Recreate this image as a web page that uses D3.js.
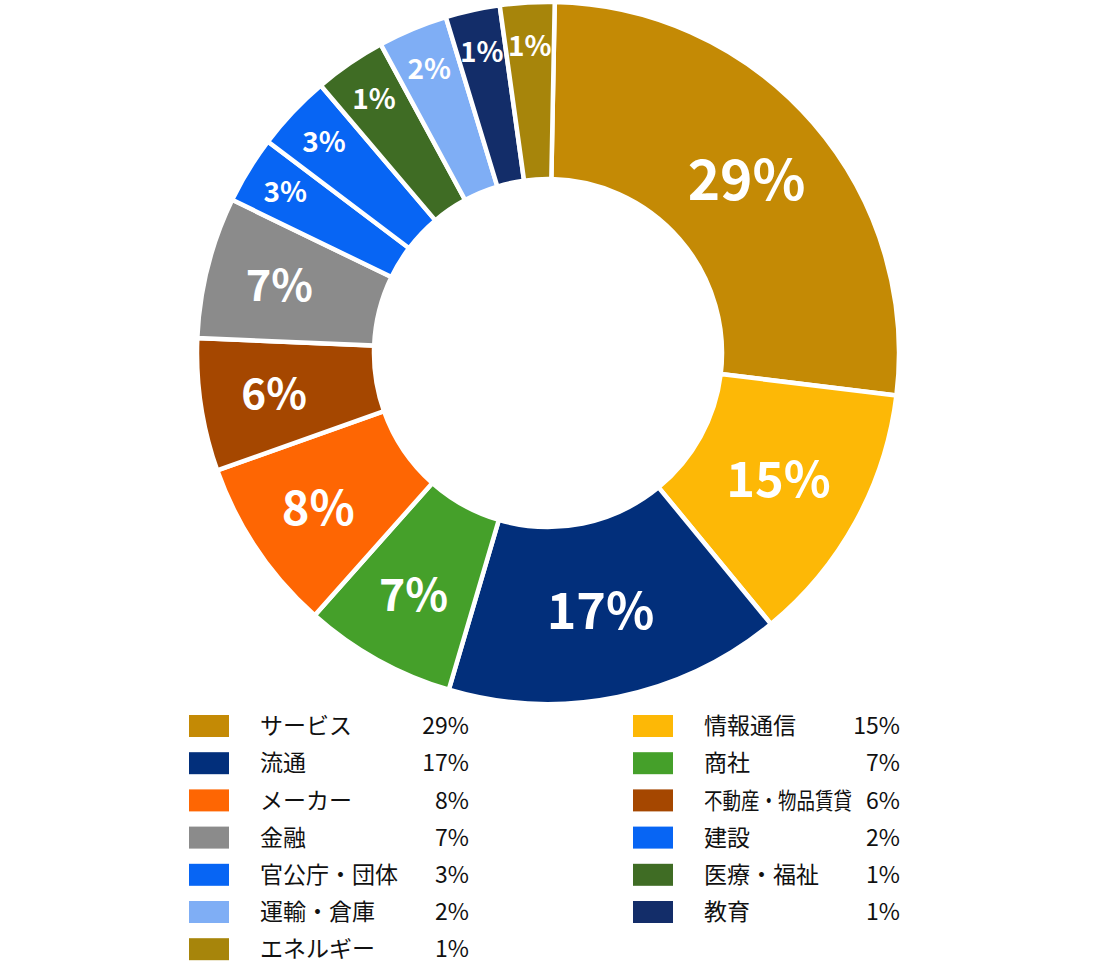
<!DOCTYPE html>
<html>
<head>
<meta charset="utf-8">
<script src="https://cdn.jsdelivr.net/npm/d3@7"></script>
<style>
  html, body { margin: 0; padding: 0; background: #ffffff; }
  svg { display: block; }
</style>
</head>
<body>
<svg id="chart" width="1096" height="977"></svg>
<script>
// ---- data ----
const categories = ["サービス", "情報通信", "流通", "商社", "メーカー", "不動産・物品賃貸", "金融", "建設", "官公庁・団体", "医療・福祉", "運輸・倉庫", "教育", "エネルギー"];
const arcShares = [26.6, 12.1, 15.5, 7.0, 8.0, 6.1, 6.5, 3.1, 3.5, 3.3, 3.2, 2.5, 2.5];
// labels printed on the slices
const sliceLabels = ["29%", "15%", "17%", "7%", "8%", "6%", "7%", "3%", "3%", "1%", "2%", "1%", "1%"];
// values printed in the legend
const legendValues = ["29%", "15%", "17%", "7%", "8%", "6%", "7%", "2%", "3%", "1%", "2%", "1%", "1%"];
const colors = ["#C48A05", "#FDB806", "#022F7B", "#45A02A", "#FE6603", "#A54700", "#8B8B8B", "#0765F4", "#0765F4", "#3F6C24", "#7FAEF5", "#132D69", "#A7850B"];

// ---- layout ----
const cx = 548, cy = 353;
const outerR = 351, innerR = 174;
const startDeg = 1.1;

const svg = d3.select("#chart");
const g = svg.append("g").attr("transform", `translate(${cx},${cy})`);

const pie = d3.pie()
  .sort(null)
  .value(d => d)
  .startAngle(startDeg * Math.PI / 180)
  .endAngle(startDeg * Math.PI / 180 + 2 * Math.PI);

const arcs = pie(arcShares);
const arc = d3.arc().innerRadius(innerR).outerRadius(outerR);

g.selectAll("path.slice")
  .data(arcs)
  .join("path")
  .attr("class", "slice")
  .attr("d", arc)
  .attr("fill", (d, i) => colors[i])
  .attr("stroke", "#ffffff")
  .attr("stroke-width", 4.5)
  .attr("stroke-linejoin", "miter");

const labelRadius = d => d.value >= 10 ? 263 : d.value >= 5 ? 277 : 308;
const labelSize = d3.scaleLinear().domain([6, 8, 15, 26]).range([42, 47, 50, 55]).clamp(true);
const fontSize = d => d.value >= 5 ? labelSize(d.value) : 28;

g.selectAll("text.lbl")
  .data(arcs)
  .join("text")
  .attr("class", "lbl")
  .attr("transform", d => {
    const a = (d.startAngle + d.endAngle) / 2;
    const r = labelRadius(d);
    return `translate(${r * Math.sin(a)},${-r * Math.cos(a)})`;
  })
  .attr("text-anchor", "middle")
  .attr("dy", "0.36em")
  .attr("fill", "#ffffff")
  .attr("font-family", "'Noto Sans CJK JP', 'Noto Sans', sans-serif")
  .attr("font-weight", 700)
  .attr("font-size", d => fontSize(d))
  .text((d, i) => sliceLabels[i]);

// ---- legend ----
const legendRow0 = 726, rowStep = 37.2;
const colX = [189, 633];
const textOffset = 71;
const valueRight = [469, 900];

const leg = svg.append("g").attr("class", "legend");
const items = leg.selectAll("g.item")
  .data(categories.map((c, i) => ({ name: c, i })))
  .join("g")
  .attr("class", "item")
  .attr("transform", d => `translate(0,${legendRow0 + Math.floor(d.i / 2) * rowStep})`);

items.append("rect")
  .attr("x", d => colX[d.i % 2])
  .attr("y", -11)
  .attr("width", 40)
  .attr("height", 22)
  .attr("fill", d => colors[d.i]);

items.append("text")
  .attr("class", "val")
  .attr("x", d => valueRight[d.i % 2])
  .attr("dy", "0.36em")
  .attr("text-anchor", "end")
  .attr("font-family", "'Noto Sans CJK JP', sans-serif")
  .attr("font-size", 23)
  .attr("fill", "#111111")
  .text(d => legendValues[d.i]);

items.append("text")
  .attr("class", "name")
  .attr("transform", d => `translate(${colX[d.i % 2] + textOffset},0)`)
  .attr("dy", "0.36em")
  .attr("font-family", "'Noto Sans CJK JP', sans-serif")
  .attr("font-size", 23)
  .attr("fill", "#111111")
  .text(d => d.name)
  .each(function (d) {
    const valNode = d3.select(this.parentNode).select("text.val").node();
    const vw = valNode.getComputedTextLength();
    const avail = valueRight[d.i % 2] - vw - 14 - (colX[d.i % 2] + textOffset);
    const w = this.getComputedTextLength();
    if (w > avail) {
      const k = avail / w;
      d3.select(this).attr("transform", `translate(${colX[d.i % 2] + textOffset},0) scale(${k},1)`);
    }
  });
</script>
</body>
</html>
